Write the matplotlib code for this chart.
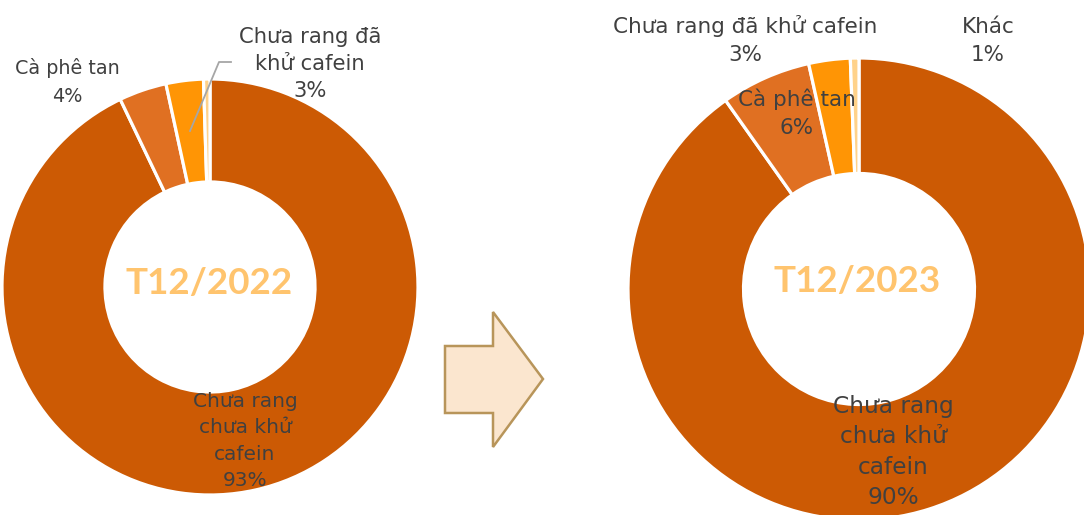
import matplotlib
matplotlib.use("Agg")
import matplotlib.pyplot as plt
from matplotlib.patches import Polygon

categories = ["Chưa rang\nchưa khử\ncafein", "Cà phê tan", "Chưa rang đã\nkhử cafein", "Khác"]
values_2022 = [92.9, 3.7, 2.9, 0.5]
values_2023 = [90.2, 6.3, 2.9, 0.6]
titles = ["T12/2022", "T12/2023"]
colors = ["#CC5A04", "#E07022", "#FF9505", "#FFD28A"]

W, H = 1084, 515
fig = plt.figure(figsize=(W / 100, H / 100), dpi=100)
ax = fig.add_axes([0, 0, 1, 1])

def Y(y):
    return H - y

txt = "#404040"
fam = ["DejaVu Sans"]

# Left donut
cL, rL = (210, Y(287)), 208
ax.pie(values_2022, colors=colors, startangle=90, counterclock=False,
       center=cL, radius=rL, frame=True,
       wedgeprops=dict(width=rL * 0.495, edgecolor="white", linewidth=2.3))
# Right donut
cR, rR = (859, Y(289)), 231
ax.pie(values_2023, colors=colors, startangle=90, counterclock=False,
       center=cR, radius=rR, frame=True,
       wedgeprops=dict(width=rR * 0.5, edgecolor="white", linewidth=2.3))
ax.set_xlim(0, W)
ax.set_ylim(0, H)
ax.set_aspect("equal")
ax.axis("off")

def pct(v):
    return f"{round(v):.0f}%"

def label(x, y, s, fs, ls):
    ax.text(x, Y(y), s, ha="center", va="center", fontsize=fs, color=txt,
            family=fam, linespacing=ls)

# Center titles
ax.text(cL[0] - 1, Y(284), titles[0], ha="center", va="center", fontsize=26.5,
        fontweight="bold", color="#FFC46E", family=["Lato", "DejaVu Sans"])
ax.text(cR[0] - 2, Y(282), titles[1], ha="center", va="center", fontsize=26.5,
        fontweight="bold", color="#FFC46E", family=["Lato", "DejaVu Sans"])

fsL = 13.8
fsR = 15.5
lsL = 1.55
lsR = 1.52
# Left labels
label(67, 82, f"{categories[1]}\n{pct(values_2022[1])}", fsL, lsL)
label(310, 64, f"{categories[2]}\n{pct(values_2022[2])}", fsL * 1.1, lsL / 1.1)
ax.plot([190, 219, 231], [Y(131), Y(62), Y(62)], color="#A6A6A6", lw=1.3)
label(245, 441, f"{categories[0]}\n{pct(values_2022[0])}", fsL * 1.05, lsL / 1.05)

# Right labels
label(745, 40, f"{categories[2].replace(chr(10), ' ')}\n{pct(values_2023[2])}", fsR, lsR)
label(988, 41, f"{categories[3]}\n{pct(values_2023[3])}", fsR, lsR)
label(797, 113, f"{categories[1]}\n{pct(values_2023[1])}", fsR, lsR)
label(893, 452, f"{categories[0]}\n{pct(values_2023[0])}", fsR * 1.08, lsR / 1.08)

# Arrow
arrow_pts = [(445, 346), (493, 346), (493, 312), (543, 379), (493, 447), (493, 413), (445, 413)]
ax.add_patch(Polygon([(x, Y(y)) for x, y in arrow_pts], closed=True,
                     facecolor="#FBE6CF", edgecolor="#B8955A", lw=1.8))

fig.savefig("out.png", dpi=100)
